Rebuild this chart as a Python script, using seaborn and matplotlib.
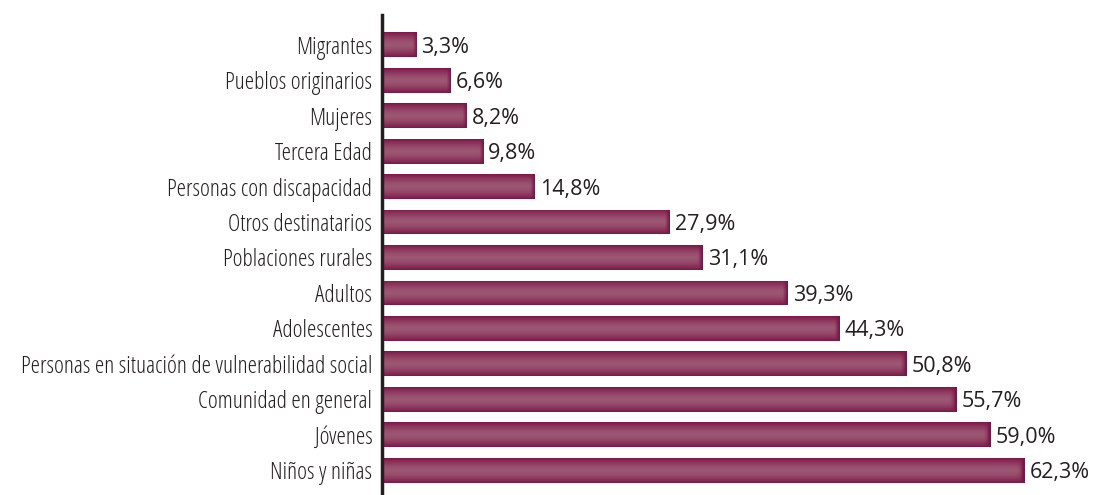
import matplotlib as mpl
mpl.use('Agg')
import matplotlib.pyplot as plt
import numpy as np
import pandas as pd
import seaborn as sns

categorias = [
    'Migrantes',
    'Pueblos originarios',
    'Mujeres',
    'Tercera Edad',
    'Personas con discapacidad',
    'Otros destinatarios',
    'Poblaciones rurales',
    'Adultos',
    'Adolescentes',
    'Personas en situación de vulnerabilidad social',
    'Comunidad en general',
    'Jóvenes',
    'Niños y niñas',
]
porcentajes = [3.3, 6.6, 8.2, 9.8, 14.8, 27.9, 31.1, 39.3, 44.3, 50.8, 55.7, 59.0, 62.3]

df = pd.DataFrame({'categoria': categorias, 'pct': porcentajes})

sns.set_style('white')
plt.rcParams['font.family'] = ['Open Sans', 'DejaVu Sans']

fig = plt.figure(figsize=(10.95, 4.95), dpi=100)
ax = fig.add_axes([382 / 1095, 0.0, 1 - 382 / 1095, 1 - 15 / 495])

sns.barplot(data=df, x='pct', y='categoria', ax=ax, color='#8a2c55',
            width=0.70, orient='h', saturation=1, linewidth=0)

# degradado: bordes oscuros, centro claro
dark = np.array([0.49, 0.09, 0.28])
light = np.array([0.61, 0.34, 0.45])
ny, nx = 64, 200
t = np.linspace(-1, 1, ny)
prof = (1 - np.abs(t) ** 1.6)[:, None]
img = dark + (light - dark) * prof[..., None]
img = np.repeat(img, nx, axis=1)

for p in ax.patches:
    x0, y0 = p.get_x(), p.get_y()
    w, h = p.get_width(), p.get_height()
    # oscurecer ligeramente el extremo derecho
    xs = np.linspace(0, 1, nx)
    frac = 0.4 / max(w, 1)
    edge = np.clip((xs - 1 + frac) / frac, 0, 1)[None, :, None]
    im_bar = img * (1 - edge) + dark * edge
    im = ax.imshow(im_bar, extent=[x0, x0 + w, y0 + h, y0], aspect='auto',
                   interpolation='bilinear', zorder=p.get_zorder() + 0.1)
    im.set_clip_path(p)

for i, v in enumerate(porcentajes):
    ax.text(v + 0.5, i, f'{v:.1f}%'.replace('.', ','), va='center_baseline', ha='left',
            fontsize=15.5, color='#231f20')

ax.set_xlim(0, 69.1)
ax.set_ylim(12.7, -0.84)
ax.set_xlabel('')
ax.set_ylabel('')
ax.set_xticks([])
ax.tick_params(axis='y', length=0, pad=7, labelsize=17, labelcolor='#231f20')
for lbl in ax.get_yticklabels():
    lbl.set_fontstretch('condensed')
for s in ['top', 'right', 'bottom']:
    ax.spines[s].set_visible(False)
ax.spines['left'].set_color('#231f20')
ax.spines['left'].set_linewidth(2.5)

fig.savefig('out.png', dpi=100)
